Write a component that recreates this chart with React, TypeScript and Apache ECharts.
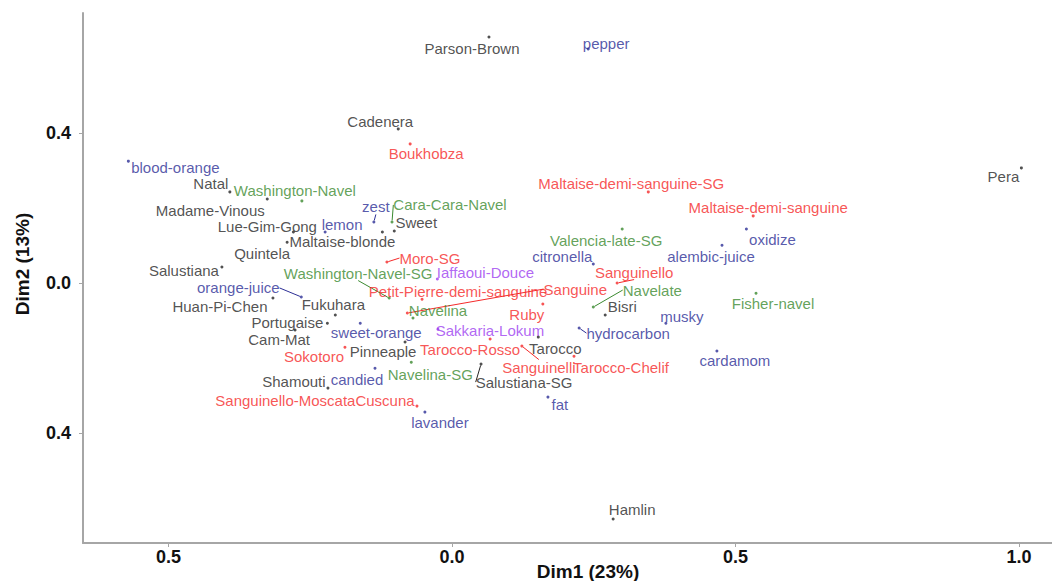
import { useEffect, useRef } from "react";
import * as echarts from "echarts";

// Factor map of cultivars and aroma descriptors (first two dimensions)
const names = [
  "Parson-Brown", "pepper", "Cadenera", "Boukhobza", "blood-orange", "Natal",
  "Washington-Navel", "Madame-Vinous", "Lue-Gim-Gong", "lemon", "zest", "Cara-Cara-Navel",
  "Sweet", "Maltaise-blonde", "Quintela", "Salustiana", "orange-juice", "Huan-Pi-Chen",
  "Fukuhara", "Portugaise", "Cam-Mat", "sweet-orange", "Sokotoro", "Pinneaple",
  "Navelina-SG", "candied", "Shamouti", "Sanguinello-MoscataCuscuna", "lavander", "Hamlin",
  "fat", "Salustiana-SG", "Sanguinelli", "Tarocco-Rosso", "Tarocco", "Tarocco-Chelif",
  "Sakkaria-Lokum", "Iaffaoui-Douce", "Moro-SG", "Washington-Navel-SG", "Petit-Pierre-demi-sanguine", "Sanguine",
  "Navelina", "Ruby", "citronella", "Valencia-late-SG", "Sanguinello", "Navelate",
  "Bisri", "hydrocarbon", "musky", "cardamom", "Fisher-navel", "alembic-juice",
  "oxidize", "Maltaise-demi-sanguine", "Maltaise-demi-sanguine-SG", "Pera",
];

const dim1 = [
  0.065, 0.240, -0.095, -0.074, -0.571, -0.392,
  -0.265, -0.326, -0.280, -0.224, -0.138, -0.106,
  -0.102, -0.123, -0.291, -0.406, -0.266, -0.316,
  -0.206, -0.220, -0.277, -0.162, -0.189, -0.083,
  -0.072, -0.136, -0.219, -0.062, -0.048, 0.284,
  0.169, 0.051, 0.123, 0.067, 0.152, 0.215,
  -0.025, -0.026, -0.115, -0.111, -0.053, -0.079,
  -0.069, 0.160, 0.249, 0.300, 0.291, 0.249,
  0.270, 0.224, 0.377, 0.467, 0.536, 0.476,
  0.519, 0.531, 0.346, 1.004,
];

const dim2 = [
  0.656, 0.624, 0.411, 0.371, 0.325, 0.243,
  0.219, 0.224, 0.136, 0.136, 0.163, 0.163,
  0.139, 0.136, 0.109, 0.043, -0.037, -0.040,
  -0.085, -0.107, -0.125, -0.107, -0.171, -0.157,
  -0.211, -0.227, -0.280, -0.328, -0.344, -0.629,
  -0.304, -0.216, -0.168, -0.149, -0.144, -0.195,
  -0.123, 0.011, 0.056, -0.040, -0.043, -0.080,
  -0.093, -0.056, 0.051, 0.144, 0.000, -0.064,
  -0.085, -0.120, -0.107, -0.181, -0.027, 0.101,
  0.144, 0.179, 0.243, 0.307,
];

// c = cultivar, a = aroma, n = navel, s = blood orange, l = local variety
const groups = [
  "c", "a", "c", "s", "a", "c",
  "n", "c", "c", "a", "a", "n",
  "c", "c", "c", "c", "a", "c",
  "c", "c", "c", "a", "s", "c",
  "n", "a", "c", "s", "a", "c",
  "a", "c", "s", "s", "c", "s",
  "l", "l", "s", "n", "s", "s",
  "n", "s", "a", "n", "s", "n",
  "c", "a", "a", "a", "n", "a",
  "a", "s", "s", "c",
];

const xTicks = [-0.5, 0, 0.5, 1.0];
const yTicks = [-0.4, 0, 0.4];

const groupColor: Record<string, string> = {
  c: "#262626",
  a: "#2d2f96",
  n: "#3b8a30",
  s: "#f52a2a",
  l: "#9d3ff0",
};

// Label placement (pixel shift of the label centre from its point)
const labelShift: Record<string, [number, number]> = {
  "Parson-Brown": [-17, 11], pepper: [18, -6], Cadenera: [-18, -7], Boukhobza: [16, 10],
  "blood-orange": [47, 6], Natal: [-19, -8], "Washington-Navel": [-7, -10], "Madame-Vinous": [-57, 11],
  "Lue-Gim-Gong": [-26, -6], lemon: [17, -8], zest: [2, -15], "Cara-Cara-Navel": [58, -17],
  Sweet: [22, -8], "Maltaise-blonde": [-40, 9], Quintela: [-25, 11], Salustiana: [-38, 4],
  "orange-juice": [-63, -9], "Huan-Pi-Chen": [-53, 8], Fukuhara: [-2, -10], Portugaise: [-40, -1],
  "Cam-Mat": [-16, 10], "sweet-orange": [16, 9], Sokotoro: [-31, 9], Pinneaple: [-22, 10],
  "Navelina-SG": [19, 12], candied: [-18, 11], Shamouti: [-34, -7], "Sanguinello-MoscataCuscuna": [-102, -6],
  lavander: [15, 10], Hamlin: [19, -9], fat: [12, 7], "Salustiana-SG": [43, 18],
  Sanguinelli: [17, 21], "Tarocco-Rosso": [-20, 11], Tarocco: [17, 11], "Tarocco-Chelif": [47, 11],
  "Sakkaria-Lokum": [52, 1], "Iaffaoui-Douce": [48, -6], "Moro-SG": [43, -4], "Washington-Navel-SG": [-31, -25],
  "Petit-Pierre-demi-sanguine": [36, -8], Sanguine: [168, -24], Navelina: [25, -7], Ruby: [-16, 10],
  citronella: [-31, -7], "Valencia-late-SG": [-16, 11], Sanguinello: [17, -11], Navelate: [59, -17],
  Bisri: [17, -8], hydrocarbon: [49, 5], musky: [16, -7], cardamom: [18, 10],
  "Fisher-navel": [17, 10], "alembic-juice": [-11, 11], oxidize: [26, 10], "Maltaise-demi-sanguine": [15, -8],
  "Maltaise-demi-sanguine-SG": [-17, -8], Pera: [-18, 9],
};

const leaderLabels = new Set([
  "zest", "Cara-Cara-Navel", "Moro-SG", "Washington-Navel-SG", "orange-juice", "Sanguine",
  "Sanguinello", "Navelate", "hydrocarbon", "Sanguinelli", "Salustiana-SG",
]);

const axisGray = "#a6a6a6";
const tickFont = "'Liberation Sans', Arial, sans-serif";

export default function App() {
  const ref = useRef<HTMLDivElement>(null);

  useEffect(() => {
    if (!ref.current) return;
    const chart = echarts.init(ref.current, undefined, { renderer: "svg" });

    const data = names.map((n, i) => {
      const color = groupColor[groups[i]];
      return {
        name: n,
        value: [dim1[i], dim2[i]],
        itemStyle: { color },
        label: { color },
        labelLine: { show: leaderLabels.has(n), lineStyle: { color, width: 1 } },
      };
    });

    chart.setOption({
      animation: false,
      backgroundColor: "#ffffff",
      grid: { left: 83, top: 13, width: 969, height: 530 },
      xAxis: {
        type: "value",
        min: -0.651,
        max: 1.058,
        splitLine: { show: false },
        axisLine: { show: true, onZero: false, lineStyle: { color: axisGray, width: 2 } },
        axisTick: { show: true, length: 4, customValues: xTicks, lineStyle: { color: axisGray } },
        axisLabel: {
          customValues: xTicks,
          formatter: (v: number) => Math.abs(v).toFixed(1),
          fontFamily: tickFont,
          fontWeight: "bold",
          fontSize: 18,
          color: "#111",
          margin: 5,
        },
      },
      yAxis: {
        type: "value",
        min: -0.693,
        max: 0.72,
        splitLine: { show: false },
        axisLine: { show: true, onZero: false, lineStyle: { color: axisGray, width: 2 } },
        axisTick: { show: true, length: 4, customValues: yTicks, lineStyle: { color: axisGray } },
        axisLabel: {
          customValues: yTicks,
          formatter: (v: number) => Math.abs(v).toFixed(1),
          fontFamily: tickFont,
          fontWeight: "bold",
          fontSize: 18,
          color: "#111",
          margin: 12,
        },
      },
      graphic: [
        {
          type: "text",
          x: 588,
          y: 571,
          style: {
            text: "Dim1 (23%)",
            fontFamily: tickFont,
            fontWeight: "bold",
            fontSize: 19,
            fill: "#111",
            textAlign: "center",
            textVerticalAlign: "middle",
          },
        },
        {
          type: "text",
          x: 22,
          y: 264,
          rotation: Math.PI / 2,
          style: {
            text: "Dim2 (13%)",
            fontFamily: tickFont,
            fontWeight: "bold",
            fontSize: 19,
            fill: "#111",
            textAlign: "center",
            textVerticalAlign: "middle",
          },
        },
      ],
      series: [
        {
          type: "scatter",
          symbol: "circle",
          symbolSize: 3,
          data,
          label: {
            show: true,
            position: "inside",
            formatter: "{b}",
            fontFamily: "'Liberation Sans', Arial, sans-serif",
            fontSize: 15,
            align: "center",
            verticalAlign: "middle",
          },
          labelLayout: (params: any) => {
            const s = labelShift[names[params.dataIndex]] || [0, 0];
            return { dx: s[0], dy: s[1] };
          },
          emphasis: { disabled: true },
        },
      ],
    });

    return () => chart.dispose();
  }, []);

  return (
    <div
      ref={ref}
      style={{ position: "fixed", left: 0, top: 0, width: 1052, height: 581 }}
    />
  );
}
